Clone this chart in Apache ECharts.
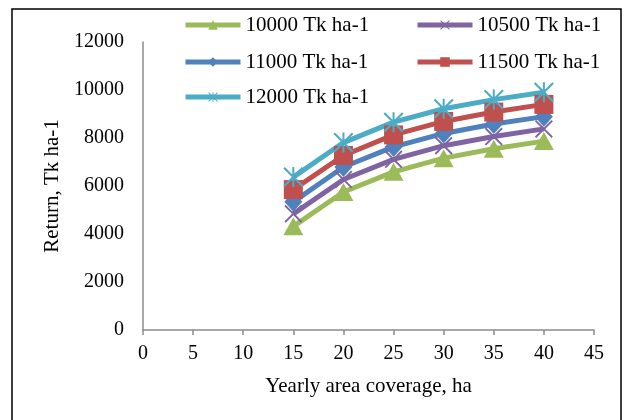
<!DOCTYPE html>
<html>
<head>
<meta charset="utf-8">
<script src="https://cdn.jsdelivr.net/npm/echarts@6/dist/echarts.min.js"></script>
<style>
  html, body { margin: 0; padding: 0; background: #fff; }
  #chart { width: 625px; height: 420px; }
</style>
</head>
<body>
<div id="chart"></div>
<script>
// yearly area coverage (ha)
var coverage = [15, 20, 25, 30, 35, 40];
var seriesNames = ["10000 Tk ha-1", "10500 Tk ha-1", "11000 Tk ha-1", "11500 Tk ha-1", "12000 Tk ha-1"];
// return, Tk ha-1
var ret10000 = [4320, 5750, 6590, 7160, 7550, 7870];
var ret10500 = [4840, 6270, 7110, 7680, 8060, 8380];
var ret11000 = [5340, 6790, 7630, 8190, 8580, 8890];
var ret11500 = [5850, 7270, 8130, 8690, 9080, 9400];
var ret12000 = [6370, 7810, 8660, 9220, 9600, 9910];
var xTicks = [0, 5, 10, 15, 20, 25, 30, 35, 40, 45];
var yTicks = [0, 2000, 4000, 6000, 8000, 10000, 12000];

var chart = echarts.init(document.getElementById("chart"));

var font = "Liberation Serif";
var colors = ["#9bbb59", "#8064a2", "#4f81bd", "#c0504d", "#4bacc6"];
// X marker and asterisk marker as filled paths
var xPath = "path://M0,1.5L1.5,0L10,8.5L18.5,0L20,1.5L11.5,10L20,18.5L18.5,20L10,11.5L1.5,20L0,18.5L8.5,10Z";
var starPath = "path://M0,1.5L1.5,0L10,8.5L18.5,0L20,1.5L11.5,10L20,18.5L18.5,20L10,11.5L1.5,20L0,18.5L8.5,10Z" +
  "M9,0L11,0L11,20L9,20Z";
var symbols = ["triangle", xPath, "diamond", "rect", starPath];
var symbolSizes = [[20, 18], 18, [18, 20], 19, 20];
var allData = [ret10000, ret10500, ret11000, ret11500, ret12000];

function pairs(vals) {
  return coverage.map(function (x, i) { return [x, vals[i]]; });
}

var series = seriesNames.map(function (name, i) {
  return {
    name: name,
    type: "line",
    data: pairs(allData[i]),
    symbol: symbols[i],
    symbolSize: symbolSizes[i],
    showAllSymbol: true,
    lineStyle: { color: colors[i], width: 5 },
    itemStyle: { color: colors[i], borderWidth: 0 },
    emphasis: { disabled: true },
    animation: false
  };
});

// legend items placed one by one (two columns, three rows)
var legendPos = [[183, 14.5], [415, 14.5], [183, 51.5], [415, 51.5], [183, 86.5]];
var legends = seriesNames.map(function (name, i) {
  return {
    data: [name],
    left: legendPos[i][0],
    top: legendPos[i][1],
    padding: 0,
    itemWidth: 55,
    itemHeight: 12,
    selectedMode: false,
    lineStyle: { width: 5 },
    textStyle: { fontFamily: font, fontSize: 21, color: "#000" }
  };
});

chart.setOption({
  backgroundColor: "#fff",
  animation: false,
  graphic: [{
    type: "rect",
    shape: { x: 12, y: 9, width: 609, height: 430 },
    style: { fill: "none", stroke: "#000", lineWidth: 1.5 },
    silent: true
  }],
  legend: legends,
  grid: { left: 143, right: 31, top: 42, bottom: 90, outerBoundsMode: "none" },
  xAxis: {
    type: "value",
    min: xTicks[0],
    max: xTicks[xTicks.length - 1],
    interval: 5,
    name: "Yearly area coverage, ha",
    nameLocation: "middle",
    nameGap: 46,
    nameTextStyle: { fontFamily: font, fontSize: 21, color: "#000" },
    axisLine: { show: true, lineStyle: { color: "#8c8c8c", width: 1.5 } },
    axisTick: { show: true, length: 5, lineStyle: { color: "#8c8c8c", width: 1.5 } },
    axisLabel: { fontFamily: font, fontSize: 20, color: "#000", margin: 14 },
    splitLine: { show: false }
  },
  yAxis: {
    type: "value",
    min: yTicks[0],
    max: yTicks[yTicks.length - 1],
    interval: 2000,
    name: "Return, Tk ha-1",
    nameLocation: "middle",
    nameRotate: 90,
    nameGap: 75,
    nameTextStyle: { fontFamily: font, fontSize: 21, color: "#000" },
    axisLine: { show: true, lineStyle: { color: "#8c8c8c", width: 1.5 } },
    axisTick: { show: false },
    axisLabel: {
      fontFamily: font, fontSize: 20, color: "#000", margin: 19,
      formatter: function (v) { return String(v); }
    },
    splitLine: { show: false }
  },
  series: series
});
</script>
</body>
</html>
